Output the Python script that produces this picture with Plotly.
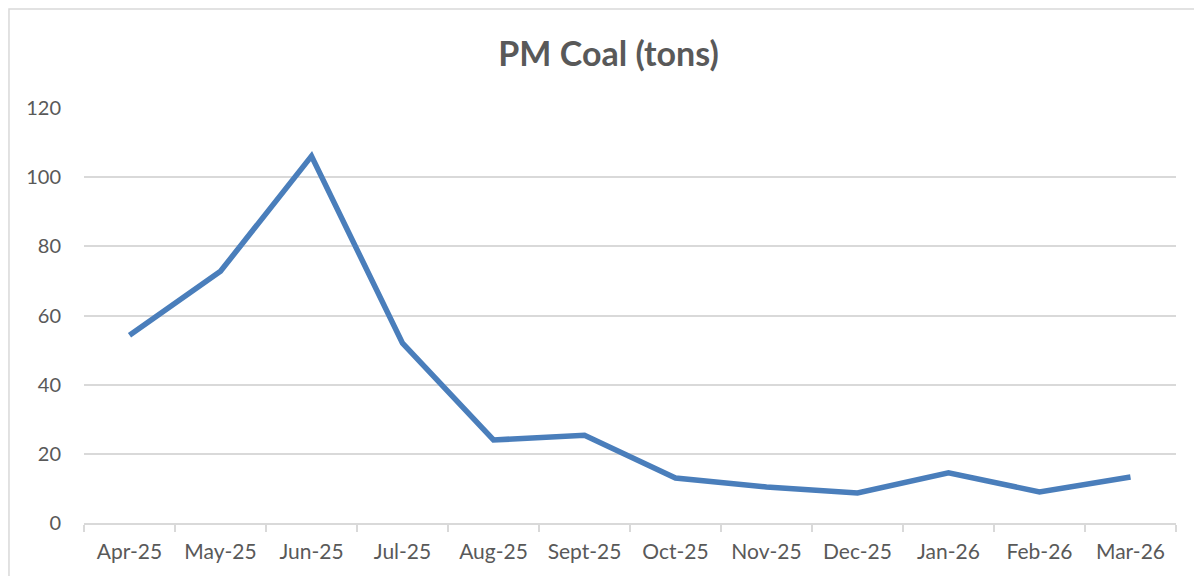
import plotly.graph_objects as go

months = ["Apr-25", "May-25", "Jun-25", "Jul-25", "Aug-25", "Sept-25",
          "Oct-25", "Nov-25", "Dec-25", "Jan-26", "Feb-26", "Mar-26"]
coal_tons = [54.3, 72.8, 106.1, 52.0, 24.0, 25.4, 13.0, 10.4, 8.7, 14.5, 9.0, 13.3]
y_ticks = [0, 20, 40, 60, 80, 100, 120]

GRID = "#d9d9d9"
TEXT = "#595959"

fig = go.Figure()
fig.add_trace(go.Scatter(
    x=months, y=coal_tons, mode="lines",
    line=dict(color="#4a7ebb", width=5.5),
    hoverinfo="x+y",
))

# chart frame (only left/top edges fall inside the window)
fig.add_shape(type="rect", xref="paper", yref="paper",
              x0=-0.0687, x1=1.2, y0=-0.3, y1=1.2386,
              line=dict(color=GRID, width=1.5), layer="below")

fig.update_layout(
    width=1194, height=568,
    margin=dict(l=76, r=26, t=100, b=53),
    paper_bgcolor="white", plot_bgcolor="white",
    font=dict(family="Lato, 'Open Sans', sans-serif", color=TEXT, size=20),
    title=dict(text="<b>PM Coal (tons)</b>", x=0.503, xanchor="center",
               y=0.919, yanchor="middle", xref="container", yref="container",
               font=dict(size=34, color=TEXT)),
    showlegend=False,
    xaxis=dict(type="category", range=[-0.5, 11.5], tickson="boundaries",
               ticks="outside", ticklen=7, tickcolor=GRID, tickwidth=1.5,
               showline=True, linecolor=GRID, linewidth=1.5, showgrid=False,
               ticklabelstandoff=9, tickfont=dict(size=21, color=TEXT)),
    yaxis=dict(range=[0, 120], tickvals=y_ticks, showgrid=True, gridcolor=GRID,
               gridwidth=1.5, zeroline=False, showline=False, ticks="",
               ticklabelstandoff=22, tickfont=dict(size=20, color=TEXT)),
)

fig.write_html("out.html")
